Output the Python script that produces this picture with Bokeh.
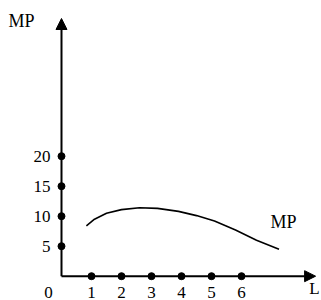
from bokeh.plotting import figure
from bokeh.models import Range1d, Arrow, NormalHead
from bokeh.core.properties import value
from bokeh.embed import file_html
from bokeh.resources import INLINE

# Data
x_ticks = [1, 2, 3, 4, 5, 6]
x_tick_labels = ["1", "2", "3", "4", "5", "6"]
y_ticks = [5, 10, 15, 20]
y_tick_labels = ["5", "10", "15", "20"]
mp_x = [0.83, 1.1, 1.5, 2.0, 2.6, 3.2, 3.9, 4.5, 5.1, 5.8, 6.5, 7.25]
mp_y = [8.4, 9.5, 10.5, 11.1, 11.4, 11.3, 10.8, 10.1, 9.2, 7.7, 6.0, 4.5]
x_axis_end = 8.47
y_axis_end = 42.95

FONT = value("Liberation Serif")

p = figure(width=321, height=300, output_backend="svg", toolbar_location=None,
           x_range=Range1d(-2.0333, 8.6667), y_range=Range1d(-4.05, 45.95),
           x_axis_type=None, y_axis_type=None, min_border=0)
p.grid.visible = False
p.outline_line_color = None
p.background_fill_color = "white"
p.border_fill_color = "white"

# axes with arrow heads
p.add_layout(Arrow(end=NormalHead(size=11, fill_color="black", line_color="black"),
                   x_start=0, y_start=0, x_end=x_axis_end, y_end=0,
                   line_width=2, line_color="black"))
p.add_layout(Arrow(end=NormalHead(size=11, fill_color="black", line_color="black"),
                   x_start=0, y_start=0, x_end=0, y_end=y_axis_end,
                   line_width=2, line_color="black"))

# tick dots
p.scatter(x_ticks, [0] * len(x_ticks), size=7, color="black")
p.scatter([0] * len(y_ticks), y_ticks, size=7, color="black")

# MP curve
p.line(mp_x, mp_y, line_width=1.6, line_color="black")

# tick labels
p.text(x=x_ticks, y=[-3.55] * len(x_ticks), text=x_tick_labels,
       text_font=FONT, text_font_size="17px", text_align="center",
       text_baseline="bottom", text_color="black")
p.text(x=[-0.37] * len(y_ticks), y=y_ticks, text=y_tick_labels,
       text_font=FONT, text_font_size="17px", text_align="right",
       text_baseline="middle", text_color="black")
p.text(x=[-0.43], y=[-3.55], text=["0"], text_font=FONT, text_font_size="17px",
       text_align="center", text_baseline="bottom", text_color="black")
p.text(x=[8.43], y=[-3.55], text=["L"], text_font=FONT, text_font_size="17px",
       text_align="center", text_baseline="bottom", text_color="black")

# axis and curve labels
p.text(x=[-1.767], y=[42.6], text=["MP"], text_font=FONT, text_font_size="18px",
       text_align="left", text_baseline="middle", text_color="black")
p.text(x=[7.4], y=[9.1], text=["MP"], text_font=FONT, text_font_size="18px",
       text_align="center", text_baseline="middle", text_color="black")

open("out.html", "w").write(file_html(p, INLINE))
